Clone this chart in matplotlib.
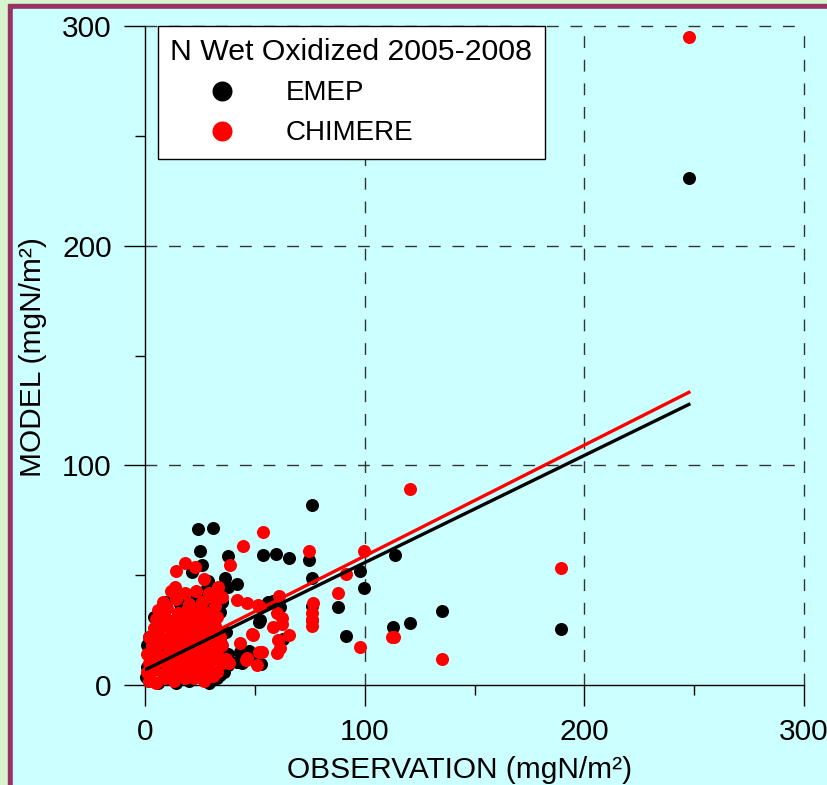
import numpy as np
import matplotlib.pyplot as plt
from matplotlib.patches import Rectangle
from matplotlib.lines import Line2D
from matplotlib.ticker import MultipleLocator

plt.rcParams['font.family'] = ['Liberation Sans', 'DejaVu Sans']

# (observation, model) pairs in mgN/m2
emep = [
    (247.6, 230.8), (189.3, 25.5), (135.2, 33.7), (120.6, 28.2), (113.0, 26.5),
    (113.8, 59.4), (99.8, 44.3), (97.7, 52.0), (91.3, 22.3), (87.8, 35.4),
    (76.1, 81.9), (76.0, 48.7), (74.7, 57.0), (75.9, 35.8), (75.9, 29.6),
    (65.5, 57.8), (59.6, 59.6), (53.6, 59.2), (52.8, 9.6), (52.3, 29.6),
    (58.4, 38.2), (61.4, 35.6), (63.0, 21.1), (56.1, 37.9), (30.8, 71.3),
    (24.0, 71.0), (25.0, 61.1), (37.8, 58.7), (25.8, 54.8), (21.5, 51.6),
    (36.4, 48.5), (28.8, 47.3), (41.7, 45.8), (13.7, 39.5), (19.7, 41.0),
    (28.1, 44.0), (37.9, 44.7), (47.5, 15.5), (41.7, 10.6), (30.4, 2.3),
    (51.8, 28.8), (43.2, 15.2), (49.3, 13.7), (44.0, 9.9), (34.1, 33.4),
    (34.9, 15.9), (37.9, 9.1), (34.1, 4.6), (26.5, 3.8), (17.4, 3.8),
    (0.8, 18.2), (4.6, 25.0), (0.5, 3.8),
    (2, 2), (6, 1), (10, 3), (14, 1), (20, 2), (24, 4), (29, 1), (33, 3),
    (1, 8), (5, 10), (9, 7), (13, 9), (18, 8), (22, 11), (27, 8), (31, 12), (36, 6),
    (3, 14), (7, 17), (12, 13), (16, 16), (21, 15), (25, 18), (30, 17), (34, 21), (38, 14),
    (2, 22), (6, 27), (10, 21), (15, 24), (19, 20), (23, 27), (28, 23), (32, 26), (37, 24),
    (4, 31), (8, 34), (12, 29), (17, 32), (21, 36), (26, 31), (30, 35), (35, 38),
    (9, 38), (16, 37), (24, 40), (31, 41),
]
chimere = [
    (247.6, 295.0), (189.3, 53.3), (135.2, 12.0), (120.6, 89.2), (113.5, 21.7),
    (112.3, 21.7), (99.8, 60.8), (97.9, 17.2), (91.5, 50.7), (87.8, 42.0),
    (74.8, 61.2), (76.3, 37.2), (76.0, 33.0), (76.0, 29.8), (76.0, 27.0),
    (53.5, 69.8), (44.5, 63.4), (38.8, 54.5), (18.3, 55.4), (22.9, 53.5),
    (14.0, 52.0), (26.7, 48.4), (13.7, 44.7), (33.4, 44.7), (41.7, 38.7),
    (46.3, 37.2), (51.6, 36.4), (52.3, 35.6), (61.1, 40.5), (59.9, 32.9),
    (62.2, 30.3), (58.1, 26.5), (62.2, 27.8), (65.4, 22.8), (60.7, 20.5),
    (61.4, 16.7), (59.9, 14.7), (53.1, 15.2), (48.7, 23.0), (43.2, 19.3),
    (51.9, 15.2), (45.8, 11.4), (38.1, 9.8), (22.4, 3.0), (50.8, 9.1),
    (49.3, 22.8), (46.3, 12.1),
    (2, 2), (5, 1), (9, 3), (13, 2), (18, 3), (27, 2), (31, 4),
    (1, 6), (4, 7), (8, 5), (12, 6), (16, 7), (20, 6), (24, 5), (29, 7), (33, 6),
    (2, 10), (6, 11), (10, 9), (14, 10), (18, 11), (22, 10), (26, 9), (30, 11), (35, 10),
    (1, 14), (5, 15), (9, 13), (13, 14), (17, 15), (21, 14), (25, 13), (29, 15), (33, 14), (37, 12),
    (3, 18), (7, 19), (11, 17), (15, 18), (19, 19), (23, 18), (27, 17), (31, 19), (35, 18),
    (2, 22), (6, 23), (10, 21), (14, 22), (18, 23), (22, 22), (26, 21), (30, 23), (34, 22),
    (4, 26), (8, 27), (12, 25), (16, 26), (20, 27), (24, 26), (28, 25), (32, 27),
    (5, 30), (9, 31), (13, 29), (17, 30), (21, 31), (25, 30), (29, 29), (33, 31),
    (6, 34), (10, 35), (15, 33), (19, 34), (24, 35), (28, 33), (32, 36),
    (8, 38), (14, 39), (20, 37), (26, 38), (30, 40),
    (12, 43), (18, 42), (23, 43), (29, 42), (35, 40),
]
# regression lines: intercept, slope
emep_fit = (6.9, 0.488)
chimere_fit = (8.2, 0.505)

series_names = ['EMEP', 'CHIMERE']
legend_title = 'N Wet Oxidized 2005-2008'
ticks = [0, 100, 200, 300]

W, H = 827, 785
fig = plt.figure(figsize=(W / 100, H / 100), dpi=100)
fig.patch.set_facecolor('#d6f5cc')
fig.add_artist(Rectangle((8 / W, 0), 1, (H - 4) / H, transform=fig.transFigure,
                         color='#993366', zorder=-2))
fig.add_artist(Rectangle((13 / W, 0), 1, (H - 9) / H, transform=fig.transFigure,
                         color='#ccffff', zorder=-1))

ax = fig.add_axes([145 / W, 100 / H, 659 / W, 659 / H])
ax.set_facecolor('#ccffff')
ax.set_xlim(0, 300)
ax.set_ylim(0, 300)
for s in ['top', 'right']:
    ax.spines[s].set_visible(False)
for s in ['left', 'bottom']:
    ax.spines[s].set_linewidth(1)

ax.set_xticks(ticks)
ax.set_yticks(ticks)
ax.xaxis.set_minor_locator(MultipleLocator(50))
ax.yaxis.set_minor_locator(MultipleLocator(50))
ax.tick_params(which='major', direction='out', length=15, width=1, labelsize=21.5, pad=9)
ax.tick_params(which='minor', direction='out', length=7.5, width=1)

for v in ticks[1:]:
    ax.axvline(v, color='#333333', lw=1, dashes=(8.5, 8.5), clip_on=False, zorder=1)
    ax.axhline(v, color='#333333', lw=1, dashes=(8.5, 8.5), clip_on=False, zorder=1)

e = np.array(emep)
c = np.array(chimere)
ax.scatter(e[:, 0], e[:, 1], s=88, c='black', linewidths=0, clip_on=False, zorder=3)
ax.scatter(c[:, 0], c[:, 1], s=88, c='red', linewidths=0, clip_on=False, zorder=3)

xs = np.array([e[:, 0].min(), e[:, 0].max()])
ax.plot(xs, chimere_fit[0] + chimere_fit[1] * xs, color='red', lw=2.4, zorder=4)
ax.plot(xs, emep_fit[0] + emep_fit[1] * xs, color='black', lw=2.4, zorder=5)

ax.set_xlabel('OBSERVATION (mgN/m²)', fontsize=21.5)
ax.set_ylabel('MODEL (mgN/m²)', fontsize=21.5)
ax.xaxis.set_label_coords(0.478, -0.108)
ax.yaxis.set_label_coords(-0.148, 0.498)

handles = [Line2D([], [], ls='none', marker='o', ms=14.4, mfc=col, mec='none', label=n)
           for n, col in zip(series_names, ['black', 'red'])]
leg = ax.legend(handles=handles, title=legend_title, loc='upper left',
                bbox_to_anchor=(13 / 659, 1.0), borderaxespad=0, fontsize=20,
                title_fontsize=21.8, fancybox=False, framealpha=1, edgecolor='black',
                handlelength=3.7, handletextpad=0.45, borderpad=0.45, labelspacing=0.5)
leg._legend_box.align = 'left'
leg.get_frame().set_linewidth(1)
leg.set_zorder(6)

plt.savefig('out.png', dpi=100)
